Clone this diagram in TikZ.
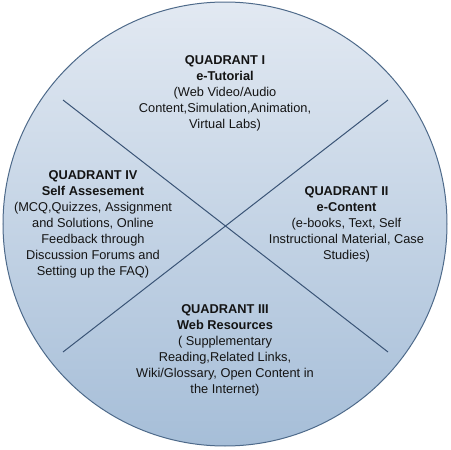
\documentclass[tikz,border=0pt]{standalone}
\usepackage{fontspec}
\setmainfont{Liberation Sans}
\usepackage{xcolor}
\definecolor{rimcol}{RGB}{78,106,138}
\definecolor{crosscol}{RGB}{58,84,118}
\definecolor{topfill}{RGB}{226,233,242}
\definecolor{botfill}{RGB}{166,190,216}
\definecolor{txtcol}{RGB}{20,20,20}

\begin{document}
\begin{tikzpicture}[x=0.75pt,y=0.75pt,yscale=-1,xscale=1,
  quadtext/.style={align=center,inner sep=0.75pt,text=txtcol,font=\fontsize{9.6}{12}\selectfont}]
\useasboundingbox (0,0) rectangle (451,450);

%Shape: Circle
\shade [top color=topfill, bottom color=botfill, draw=rimcol, line width=0.75] (225,224) circle (222);

%Straight Lines
\coordinate (tl) at (63,100);
\coordinate (br) at (388,352);
\coordinate (bl) at (63,352);
\coordinate (tr) at (388,100);
\draw [color=crosscol, line width=0.75]  (tl) -- (br) ;
\draw [color=crosscol, line width=0.75]  (bl) -- (tr) ;

% Text Node
\node (q1) [quadtext] at (225,93) {\textbf{QUADRANT I}\\\textbf{e-Tutorial}\\(Web Video/Audio\\Content,Simulation,Animation,\\Virtual Labs)};
% Text Node
\node (q2) [quadtext] at (346.5,224.5) {\textbf{QUADRANT II}\\\textbf{e-Content}\\(e-books, Text, Self\\Instructional Material, Case\\Studies)};
% Text Node
\node (q3) [quadtext] at (225,350.5) {\textbf{QUADRANT III}\\\textbf{Web Resources}\\( Supplementary\\Reading,Related Links,\\Wiki/Glossary, Open Content in\\the Internet)};
% Text Node
\node (q4) [quadtext] at (93,224) {\textbf{QUADRANT IV}\\\textbf{Self Assesement}\\(MCQ,Quizzes, Assignment\\and Solutions, Online\\Feedback through\\Discussion Forums and\\Setting up the FAQ)};

\end{tikzpicture}
\end{document}
